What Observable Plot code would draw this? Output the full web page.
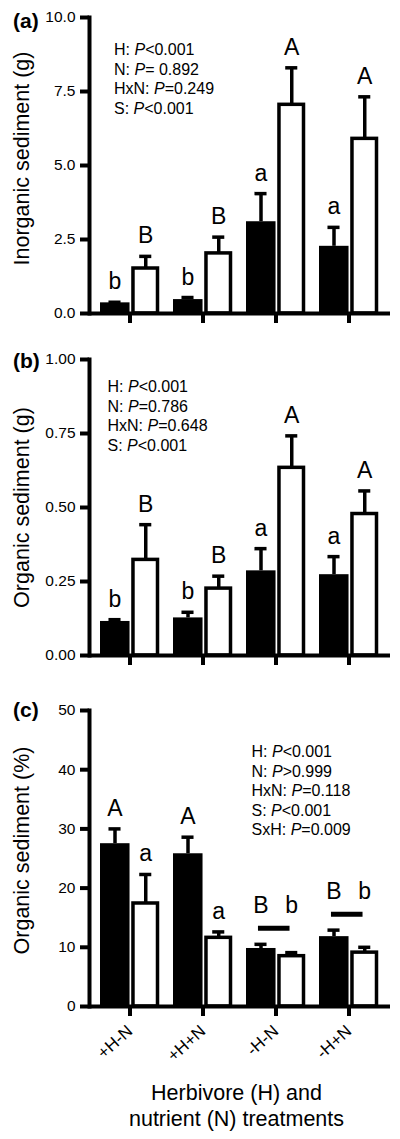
<!DOCTYPE html>
<html><head><meta charset="utf-8">
<script src="https://cdn.jsdelivr.net/npm/d3@7"></script>
<script src="https://cdn.jsdelivr.net/npm/@observablehq/plot@0.6"></script>
<style>body{margin:0;background:#fff;} #chart svg{display:block;}</style>
</head><body><div id="chart"></div>
<script>
// ---- data ----
const treatments = ["+H-N", "+H+N", "-H-N", "-H+N"];

const inorganicBlack = [0.36, 0.47, 3.10, 2.27];
const inorganicBlackSE = [0.02, 0.07, 0.95, 0.64];
const inorganicWhite = [1.52, 2.03, 7.05, 5.90];
const inorganicWhiteSE = [0.41, 0.55, 1.25, 1.42];
const inorganicLettersBlack = ["b", "b", "a", "a"];
const inorganicLettersWhite = ["B", "B", "A", "A"];
const inorganicStats = ["H: P<0.001", "N: P= 0.892", "HxN: P=0.249", "S: P<0.001"];
const inorganicTicks = [0, 2.5, 5, 7.5, 10];

const organicBlack = [0.115, 0.127, 0.286, 0.273];
const organicBlackSE = [0.006, 0.019, 0.075, 0.061];
const organicWhite = [0.323, 0.226, 0.634, 0.478];
const organicWhiteSE = [0.119, 0.042, 0.108, 0.078];
const organicLettersBlack = ["b", "b", "a", "a"];
const organicLettersWhite = ["B", "B", "A", "A"];
const organicStats = ["H: P<0.001", "N: P=0.786", "HxN: P=0.648", "S: P<0.001"];
const organicTicks = [0, 0.25, 0.5, 0.75, 1];

const percentBlack = [27.5, 25.8, 9.8, 11.8];
const percentBlackSE = [2.5, 2.8, 0.7, 1.1];
const percentWhite = [17.4, 11.6, 8.5, 9.1];
const percentWhiteSE = [4.9, 1.0, 0.6, 0.9];
const percentLettersBlack = ["A", "A", "B", "B"];
const percentLettersWhite = ["a", "a", "b", "b"];
const percentSharedGroups = ["-H-N", "-H+N"];
const percentStats = ["H: P<0.001", "N: P>0.999", "HxN: P=0.118", "S: P<0.001", "SxH: P=0.009"];
const percentTicks = [0, 10, 20, 30, 40, 50];

const xTitle = "Herbivore (H) and\nnutrient (N) treatments";

// ---- layout ----
const W = 400, ML = 89, MR = 10, PI = 0.19, PO = 0.129;
const step = (W - ML - MR) / (treatments.length - PI + 2 * PO);
const half = step * (1 - PI) / 2;
const BDX = -15, WDX = 15.75;
const FONT = "'Liberation Sans', Arial, Helvetica, sans-serif";

function panel(o) {
  const shared = o.shared || [];
  const rows = treatments.map((t, i) => ({
    t, black: o.black[i], blackSE: o.blackSE[i], white: o.white[i], whiteSE: o.whiteSE[i],
    lb: o.lettersBlack[i], lw: o.lettersWhite[i], shared: shared.includes(t)
  }));
  const topOf = d => Math.max(d.black + d.blackSE, d.white + d.whiteSE);
  const own = rows.filter(d => !d.shared), sh = rows.filter(d => d.shared);
  const marks = [
    Plot.ruleX(rows, {x: "t", y1: "black", y2: d => d.black + d.blackSE, dx: BDX, strokeWidth: 3.5}),
    Plot.ruleX(rows, {x: "t", y1: "white", y2: d => d.white + d.whiteSE, dx: WDX, strokeWidth: 3.5}),
    Plot.barY(rows, {x: "t", y: "black", fill: "black", insetRight: half - 0.5}),
    Plot.barY(rows, {x: "t", y: "white", fill: "white", stroke: "black", strokeWidth: 3.5, insetLeft: half + 3, insetRight: 1.5}),
    Plot.tickY(rows, {x: "t", y: d => d.black + d.blackSE, strokeWidth: 3.5, insetLeft: half - 21.5, insetRight: half + 8.5}),
    Plot.tickY(rows, {x: "t", y: d => d.white + d.whiteSE, strokeWidth: 3.5, insetLeft: half + 9.25, insetRight: half - 22.25}),
    Plot.ruleY([0], {strokeWidth: 4}),
    Plot.frame({anchor: "left", strokeWidth: 4}),
    Plot.axisY({ticks: o.ticks, tickFormat: o.fmt, tickSize: 9, tickPadding: 5, strokeWidth: 4, fontSize: 15.5, label: null}),
    Plot.axisX({tickSize: 10, strokeWidth: 4, tickPadding: o.xLabels ? 12 : 6, fontSize: 17, label: null,
      tickFormat: o.xLabels ? d => d : () => "", tickRotate: o.xLabels ? -42 : 0}),
    Plot.text(own, {x: "t", y: d => d.black + d.blackSE, text: "lb", dx: BDX, dy: -13, lineAnchor: "bottom", fontSize: 23}),
    Plot.text(own, {x: "t", y: d => d.white + d.whiteSE, text: "lw", dx: WDX, dy: -13, lineAnchor: "bottom", fontSize: 23}),
    Plot.text(sh, {x: "t", y: topOf, text: "lb", dx: BDX, dy: -31, lineAnchor: "bottom", fontSize: 23}),
    Plot.text(sh, {x: "t", y: topOf, text: "lw", dx: WDX, dy: -31, lineAnchor: "bottom", fontSize: 23}),
    Plot.tickY(sh, {x: "t", y: topOf, dy: -16, strokeWidth: 5, insetLeft: half - 18, insetRight: half - 14.5}),
    Plot.text([o.stats.join("\n")], {text: d => d, frameAnchor: "top-left", textAnchor: "start", lineAnchor: "top",
      lineHeight: 1.22, fontSize: 16, dx: o.statsDx, dy: o.statsDy}),
    Plot.text([o.label], {text: d => d, frameAnchor: "left", rotate: -90, textAnchor: "middle", lineAnchor: "bottom",
      dx: -61, dy: o.labelDy, fontSize: 21.5}),
    Plot.text([o.tag], {text: d => d, frameAnchor: "top-left", textAnchor: "start", lineAnchor: "bottom",
      dx: 12.5 - ML, dy: o.tagDy, fontSize: 21, fontWeight: "bold"})
  ];
  if (o.xTitle) marks.push(Plot.text([o.xTitle], {text: d => d, frameAnchor: "bottom", lineAnchor: "top",
    lineHeight: 1.2, fontSize: 21.5, dx: -3.5, dy: 75}));
  const svg = Plot.plot({
    width: W, height: o.height, marginLeft: ML, marginRight: MR, marginTop: o.mt, marginBottom: o.mb,
    style: {fontFamily: FONT, color: "black", background: "white", overflow: "visible"},
    x: {domain: treatments, paddingInner: PI, paddingOuter: PO},
    y: {domain: o.domain},
    marks
  });
  svg.querySelectorAll("text, tspan").forEach(el => {
    if (el.children.length) return;
    const m = (el.textContent || "").match(/^(.*?: )P(.*)$/);
    if (!m) return;
    el.textContent = "";
    el.append(document.createTextNode(m[1]));
    const it = document.createElementNS("http://www.w3.org/2000/svg", "tspan");
    it.setAttribute("font-style", "italic");
    it.textContent = "P";
    el.append(it, document.createTextNode(m[2]));
  });
  return svg;
}

const chart = document.getElementById("chart");
chart.append(panel({
  height: 330, mt: 17, mb: 17, domain: [0, 10], ticks: inorganicTicks, fmt: d3.format(".1f"),
  black: inorganicBlack, blackSE: inorganicBlackSE, white: inorganicWhite, whiteSE: inorganicWhiteSE,
  lettersBlack: inorganicLettersBlack, lettersWhite: inorganicLettersWhite,
  stats: inorganicStats, statsDx: 24.5, statsDy: 24,
  label: "Inorganic sediment (g)", labelDy: -7, tag: "(a)", tagDy: 10
}));
chart.append(panel({
  height: 370, mt: 29, mb: 45, domain: [0, 1], ticks: organicTicks, fmt: d3.format(".2f"),
  black: organicBlack, blackSE: organicBlackSE, white: organicWhite, whiteSE: organicWhiteSE,
  lettersBlack: organicLettersBlack, lettersWhite: organicLettersWhite,
  stats: organicStats, statsDx: 18, statsDy: 19,
  label: "Organic sediment (g)", labelDy: 0, tag: "(b)", tagDy: 8.5
}));
chart.append(panel({
  height: 439, mt: 10, mb: 133, domain: [0, 50], ticks: percentTicks, fmt: d3.format("d"),
  black: percentBlack, blackSE: percentBlackSE, white: percentWhite, whiteSE: percentWhiteSE,
  lettersBlack: percentLettersBlack, lettersWhite: percentLettersWhite, shared: percentSharedGroups,
  stats: percentStats, statsDx: 162, statsDy: 33,
  label: "Organic sediment (%)", labelDy: -8, tag: "(c)", tagDy: 6,
  xLabels: true, xTitle
}));
</script>
</body></html>
